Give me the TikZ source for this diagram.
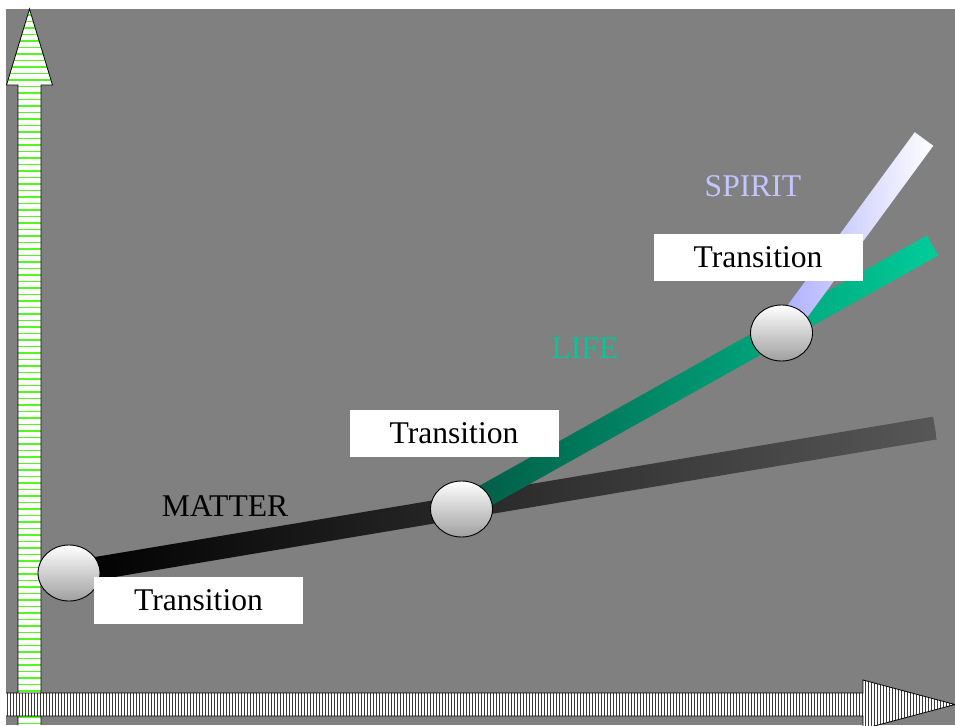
\documentclass[tikz,border=0pt]{standalone}
\usepackage{fontspec}
\setmainfont{Liberation Serif}
\usetikzlibrary{calc, shapes.geometric}
\definecolor{backdrop}{HTML}{808080}
\definecolor{stripegreen}{HTML}{55F522}
\definecolor{hatch}{HTML}{3A3A3A}
\definecolor{matterL}{HTML}{000000}
\definecolor{matterR}{HTML}{575757}
\definecolor{lifeL}{HTML}{005A44}
\definecolor{lifeR}{HTML}{00CC99}
\definecolor{spiritL}{HTML}{A8A8FF}
\definecolor{spiritR}{HTML}{FFFFFF}
\definecolor{lifetext}{HTML}{00C896}
\definecolor{spirittext}{HTML}{C4C4FF}

\begin{document}
\begin{tikzpicture}[x=1pt, y=-1pt, font=\fontsize{31.6}{38}\selectfont,
  ball/.style={ellipse, draw=black, line width=0.9pt, top color=white, bottom color=gray!75,
               minimum width=62pt, minimum height=56pt, inner sep=0pt},
  transbox/.style={fill=white, minimum width=209pt, minimum height=47pt, inner sep=0pt},
  stage/.style={inner sep=0pt}]
  \useasboundingbox (0,0) rectangle (955,725);
  % Grey canvas.
  \fill[backdrop] (6,9) rectangle (955,725);

  % Vertical axis: white arrow with green stripes.
  \def\vaxis{(18,725) -- (18,85) -- (6.5,85) -- (29.5,9) -- (52.5,85) -- (41,85) -- (41,725)}
  \fill[white] \vaxis -- cycle;
  \begin{scope}
    \clip \vaxis -- cycle;
    \foreach \y in {15,21.5,...,725}
      \draw[stripegreen, line width=1.7pt] (0,\y) -- (60,\y);
  \end{scope}
  \draw[black, line width=0.8pt] \vaxis;

  % Horizontal axis: white arrow with dark hatching.
  \def\haxis{(6,693) -- (863,693) -- (863,680) -- (955,704.5) -- (863,729) -- (863,716) -- (6,716)}
  \fill[white] \haxis -- cycle;
  \begin{scope}
    \clip \haxis -- cycle;
    \foreach \x in {7.5,10.5,...,955}
      \draw[hatch, line width=0.9pt] (\x,675) -- (\x,730);
  \end{scope}
  \draw[black, line width=0.8pt] \haxis;

  % Transition points and band ends.
  \coordinate (t1) at (69,573);
  \coordinate (t2) at (461.5,509);
  \coordinate (t3) at (781.5,333);
  \coordinate (matterEnd) at (935,428);
  \coordinate (lifeEnd) at (932.5,245.5);
  \coordinate (spiritEnd) at (924,139);

  % Bands, shaded left to right.
  \shade[left color=matterL, right color=matterR]
    ($(t1)!11.5pt!90:(matterEnd)$) -- ($(matterEnd)!11.5pt!-90:(t1)$) --
    ($(matterEnd)!11.5pt!90:(t1)$) -- ($(t1)!11.5pt!-90:(matterEnd)$) -- cycle;
  \shade[left color=lifeL, right color=lifeR]
    ($(t2)!11.5pt!90:(lifeEnd)$) -- ($(lifeEnd)!11.5pt!-90:(t2)$) --
    ($(lifeEnd)!11.5pt!90:(t2)$) -- ($(t2)!11.5pt!-90:(lifeEnd)$) -- cycle;
  \shade[left color=spiritL, right color=spiritR]
    ($(t3)!11.5pt!90:(spiritEnd)$) -- ($(spiritEnd)!11.5pt!-90:(t3)$) --
    ($(spiritEnd)!11.5pt!90:(t3)$) -- ($(t3)!11.5pt!-90:(spiritEnd)$) -- cycle;

  % Balls on top of the band joints.
  \node[ball] (ball1) at (t1) {};
  \node[ball] (ball2) at (t2) {};
  \node[ball] (ball3) at (t3) {};

  % Transition boxes.
  \node[transbox] (trans1) at (198.5,600.5) {Transition};
  \node[transbox] (trans2) at (454,433) {Transition};
  \node[transbox] (trans3) at (758,257) {Transition};

  % Stage labels.
  \node[stage, text=black] (matter) at (225,506) {MATTER};
  \node[stage, text=lifetext] (life) at (585,348) {LIFE};
  \node[stage, text=spirittext] (spirit) at (753,186) {SPIRIT};
\end{tikzpicture}
\end{document}
